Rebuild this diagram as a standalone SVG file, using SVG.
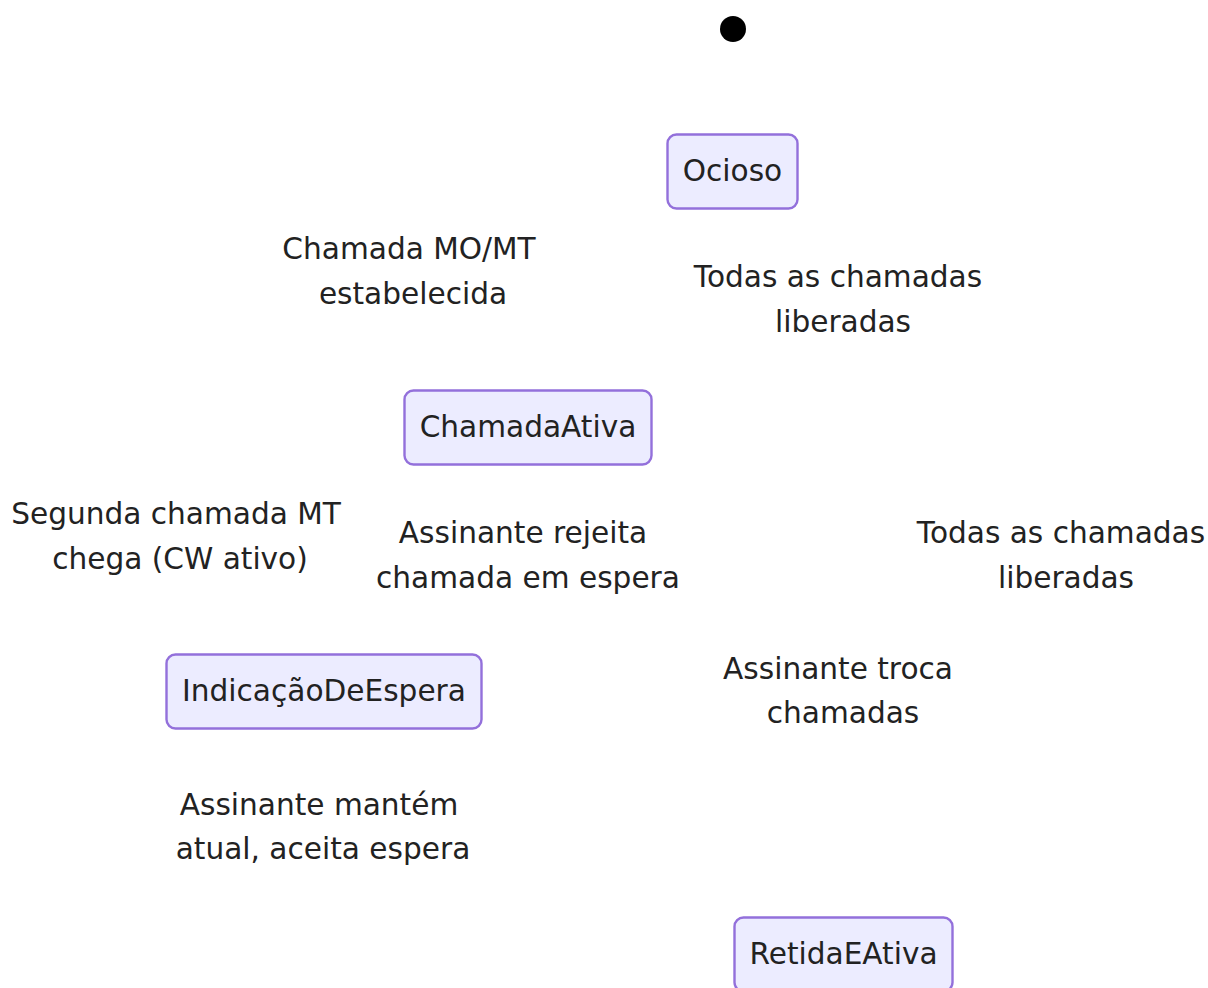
<svg xmlns="http://www.w3.org/2000/svg" width="1208" height="988" viewBox="0 0 1208 988">
<style>
.node rect{fill:#ECECFF;stroke:#9370DB;stroke-width:2.4}
text{font-family:"DejaVu Sans",sans-serif;font-size:29.6px;fill:#222;text-anchor:middle}
</style>
<rect width="1208" height="988" fill="#fff"/>
<g id="connectors"></g>
<g id="labels">
<text x="409" y="259">Chamada MO/MT</text>
<text x="413" y="304">estabelecida</text>
<text x="838" y="287">Todas as chamadas</text>
<text x="843" y="332">liberadas</text>
<text x="176" y="524">Segunda chamada MT</text>
<text x="180" y="569">chega (CW ativo)</text>
<text x="523" y="543">Assinante rejeita</text>
<text x="528" y="588">chamada em espera</text>
<text x="1061" y="543">Todas as chamadas</text>
<text x="1066" y="588">liberadas</text>
<text x="838" y="679">Assinante troca</text>
<text x="843" y="723">chamadas</text>
<text x="319" y="815">Assinante mantém</text>
<text x="323" y="859">atual, aceita espera</text>
</g>
<g id="start"><circle cx="733" cy="29" r="13" fill="#000"/></g>
<g id="Ocioso" class="node"><rect x="667.5" y="134.5" width="130" height="74" rx="9"/><text x="732.5" y="181">Ocioso</text></g>
<g id="ChamadaAtiva" class="node"><rect x="404.5" y="390.5" width="247" height="74" rx="9"/><text x="528" y="437">ChamadaAtiva</text></g>
<g id="IndicacaoDeEspera" class="node"><rect x="166.5" y="654.5" width="315" height="74" rx="9"/><text x="324" y="701">IndicaçãoDeEspera</text></g>
<g id="RetidaEAtiva" class="node"><rect x="734.5" y="917.5" width="218" height="74" rx="9"/><text x="843.5" y="964">RetidaEAtiva</text></g>
</svg>
